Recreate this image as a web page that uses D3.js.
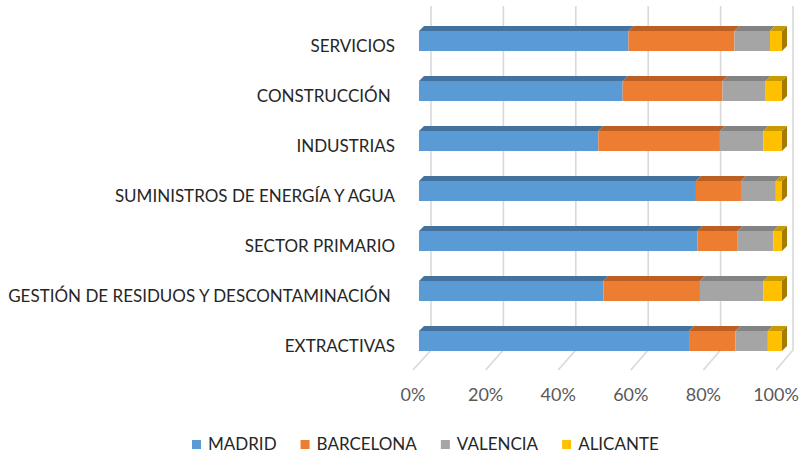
<!DOCTYPE html>
<html lang="es">
<head>
<meta charset="UTF-8">
<title>Empresas por sector</title>
<style>
  body { margin: 0; background: #fff; }
  svg text { font-family: Lato, "Open Sans", sans-serif; white-space: pre; }
</style>
</head>
<body>
<script src="https://d3js.org/d3.v7.min.js"></script>
<script>
// data (shares in %)
const categories = ["SERVICIOS", "CONSTRUCCIÓN ", "INDUSTRIAS", "SUMINISTROS DE ENERGÍA Y AGUA",
                    "SECTOR PRIMARIO", "GESTIÓN DE RESIDUOS Y DESCONTAMINACIÓN ", "EXTRACTIVAS"];
const seriesNames = ["MADRID", "BARCELONA", "VALENCIA", "ALICANTE"];
const madrid    = [57.7, 56.1, 49.4, 76.3, 76.7, 50.8, 74.4];
const barcelona = [29.2, 27.5, 33.5, 12.4, 11.1, 26.6, 12.8];
const valencia  = [ 9.8, 11.9, 12.0,  9.6,  9.8, 17.5,  8.9];
const alicante  = [ 3.3,  4.5,  5.1,  1.7,  2.4,  5.1,  3.9];
const ticks = [0, 20, 40, 60, 80, 100];

const W = 801, H = 455;
const fill  = ["#5B9BD5", "#ED7D31", "#A5A5A5", "#FFC000"];
const topC  = ["#44729E", "#BC5F22", "#838383", "#C99A00"];
const endC  = ["#3E6890", "#A9561F", "#767676", "#A67C00"];
const dx = 5, dy = -5;          // bar depth (top / end faces)

const svg = d3.select("body").append("svg")
    .attr("width", W).attr("height", H);

// scales: front face of the bars, back wall, floor front edge
const x     = d3.scaleLinear().domain([0, 100]).range([419, 782]);
const xBack = d3.scaleLinear().domain([0, 100]).range([431, 793]);
const xFloor= d3.scaleLinear().domain([0, 100]).range([413, 776]);
const y = d3.scaleBand().domain(categories).range([16, 366])
    .paddingInner(0.6).paddingOuter(0.3);

// gridlines: back wall + floor diagonal
const grid = svg.append("g").attr("fill", "none")
    .attr("stroke", "#d9d9d9").attr("stroke-width", 1.6);
grid.selectAll("path").data(ticks).join("path")
    .attr("d", t => `M${xBack(t)},6 L${xBack(t)},350 L${xFloor(t)},370`);

// stack
const rows = categories.map((c, i) => ({
  cat: c, MADRID: madrid[i], BARCELONA: barcelona[i], VALENCIA: valencia[i], ALICANTE: alicante[i]
}));
const stacked = d3.stack().keys(seriesNames)(rows);

const bars = svg.append("g");
stacked.forEach((layer, k) => {
  const g = bars.append("g");
  layer.forEach(d => {
    const x0 = x(d[0]), x1 = x(d[1]), yt = y(d.data.cat), h = y.bandwidth();
    g.append("path")
      .attr("d", `M${x0},${yt} L${x0 + dx},${yt + dy} L${x1 + dx},${yt + dy} L${x1},${yt} Z`)
      .attr("fill", topC[k]);
    g.append("rect")
      .attr("x", x0).attr("y", yt).attr("width", x1 - x0).attr("height", h)
      .attr("fill", fill[k]);
    if (k === seriesNames.length - 1) {
      g.append("path")
        .attr("d", `M${x1},${yt} L${x1 + dx},${yt + dy} L${x1 + dx},${yt + dy + h} L${x1},${yt + h} Z`)
        .attr("fill", endC[k]);
    }
  });
});

// category labels
svg.append("g").selectAll("text").data(categories).join("text")
    .attr("x", 395)
    .attr("y", d => y(d) + y.bandwidth() / 2 + 5)
    .attr("dy", "0.35em")
    .attr("text-anchor", "end")
    .attr("fill", "#262626")
    .style("font-size", "17px")
    .text(d => d);

// tick labels
svg.append("g").selectAll("text").data(ticks).join("text")
    .attr("x", t => xFloor(t))
    .attr("y", 395)
    .attr("dy", "0.35em")
    .attr("text-anchor", "middle")
    .attr("fill", "#595959")
    .style("font-size", "18px")
    .text(t => t + "%");

// legend
const legend = svg.append("g");
let lx = 192;
seriesNames.forEach((s, k) => {
  legend.append("rect").attr("x", lx).attr("y", 440).attr("width", 9).attr("height", 9)
      .attr("fill", fill[k]);
  const t = legend.append("text").attr("x", lx + 16).attr("y", 444.5).attr("dy", "0.35em")
      .attr("fill", "#262626").style("font-size", "17px").text(s);
  lx += 16 + t.node().getComputedTextLength() + 24;
});
</script>
</body>
</html>
